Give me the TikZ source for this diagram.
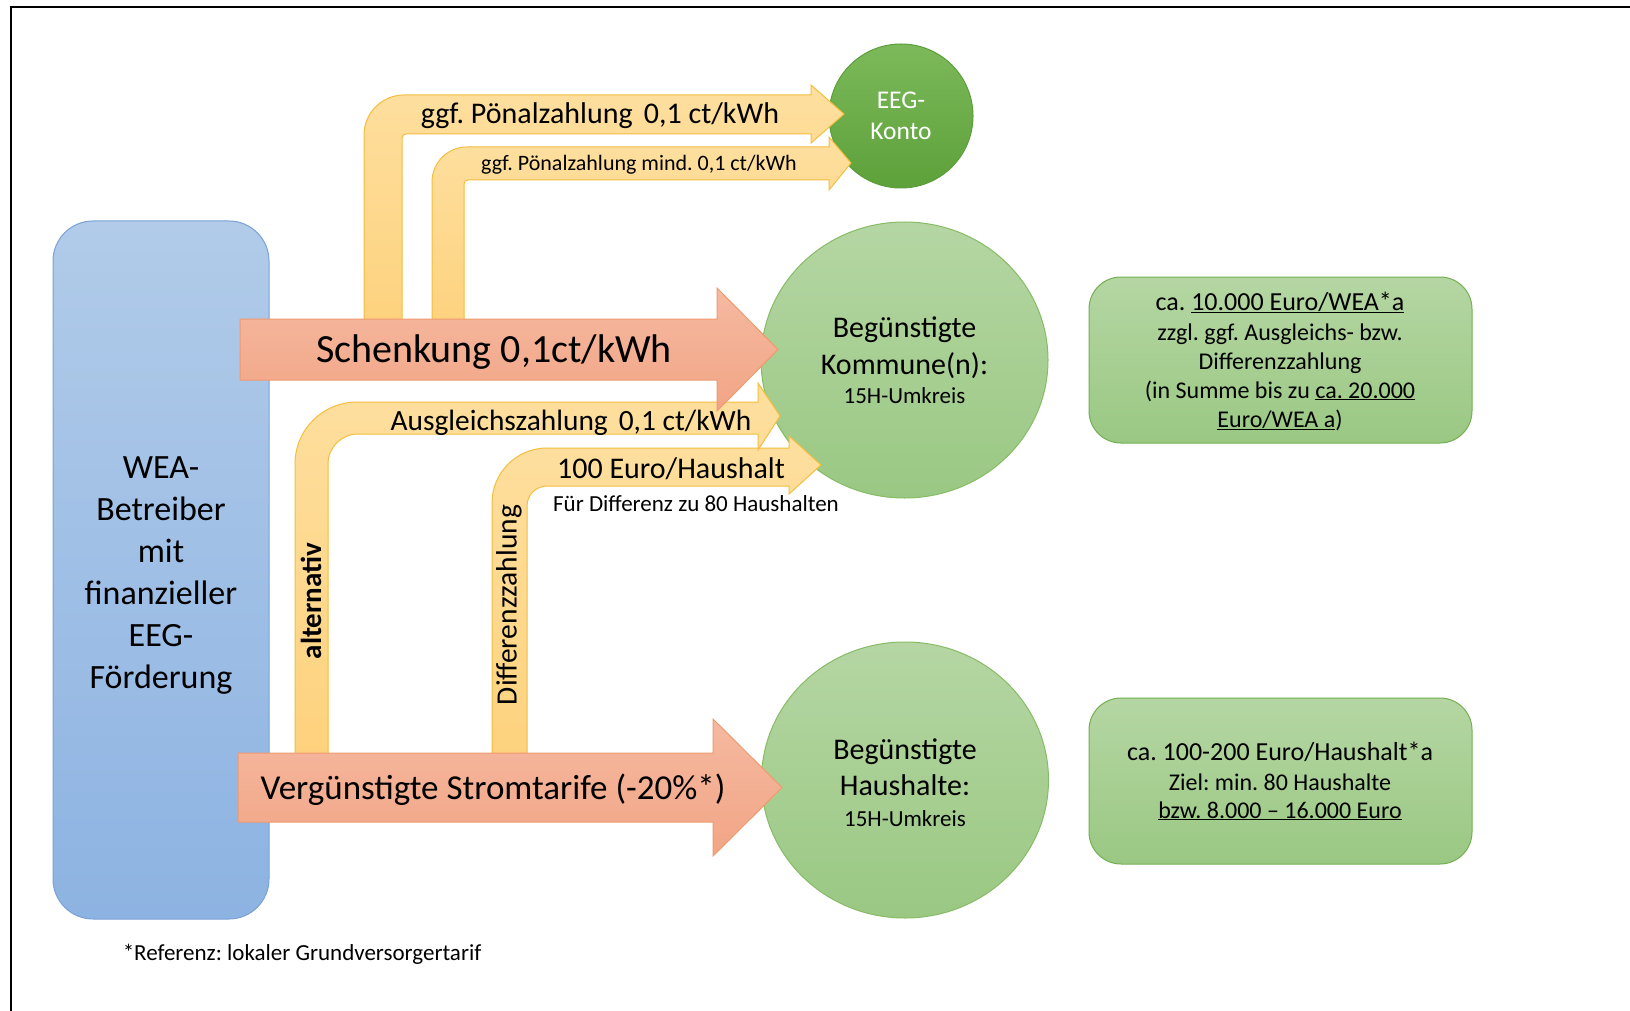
\documentclass[tikz,border=0pt]{standalone}
\usepackage{fontspec}
\setmainfont{Carlito}
\usetikzlibrary{shapes.geometric}
\frenchspacing
\newcommand\fsz[1]{\fontsize{#1}{#1}\selectfont}
\definecolor{ytop}{HTML}{FEDF9F}
\definecolor{ybot}{HTML}{FDD27D}
\definecolor{ybord}{HTML}{F4BE3E}
\definecolor{stop}{HTML}{F5B9A1}
\definecolor{sbot}{HTML}{F2A585}
\definecolor{sbord}{HTML}{EF9A6E}
\definecolor{btop}{HTML}{B1CBE9}
\definecolor{bbot}{HTML}{8DB3E2}
\definecolor{bbord}{HTML}{7AA2D4}
\definecolor{gtop}{HTML}{B5D6A3}
\definecolor{gbot}{HTML}{9AC883}
\definecolor{gbord}{HTML}{86BC66}
\definecolor{gboxbord}{HTML}{74AF52}
\definecolor{dtop}{HTML}{7CB95A}
\definecolor{dbot}{HTML}{5DA13A}
\definecolor{dbord}{HTML}{5D9E3A}
\begin{document}
\frenchspacing
\begin{tikzpicture}[x=1pt,y=-1pt,
  lbl/.style={anchor=base,inner sep=0pt,outer sep=0pt},
  yarrow/.style={draw=ybord,line width=1pt,top color=ytop,bottom color=ybot},
  sarrow/.style={draw=sbord,line width=1pt,top color=stop,bottom color=sbot},
  lgreen/.style={draw=gbord,line width=1pt,top color=gtop,bottom color=gbot,inner sep=0pt},
  gbox/.style={draw=gboxbord,line width=1pt,top color=gtop,bottom color=gbot,rounded corners=32pt,inner sep=0pt},
]
\useasboundingbox (0,0) rectangle (1630,1011);
\fill[white] (0,0) rectangle (1630,1011);
\draw[line width=2.5pt] (11,1015) -- (11,7) -- (1635,7);

% operator box
\node[draw=bbord,line width=1pt,top color=btop,bottom color=bbot,rounded corners=40pt,
      minimum width=216pt,minimum height=698pt,inner sep=0pt] (wea) at (161,570) {};
\node[align=center,font=\fontsize{34}{42}\selectfont,inner sep=0pt] (weatext) at (161,576)
  {WEA-\\Betreiber\\mit\\finanzieller\\EEG-\\Förderung};

% targets
\node[draw=dbord,line width=1pt,top color=dtop,bottom color=dbot,circle,minimum size=144pt,inner sep=0pt] (eeg) at (901,116) {};
\node[lgreen,ellipse,minimum width=287pt,minimum height=276pt] (komm) at (904.5,360) {};
\node[lgreen,ellipse,minimum width=287pt,minimum height=276pt] (haus) at (905,780) {};
\node[gbox,minimum width=383pt,minimum height=166pt] (box1) at (1280.5,360) {};
\node[gbox,minimum width=383pt,minimum height=166pt] (box2) at (1280.5,781) {};

% yellow bent arrows
\path[yarrow] (364,330) -- (364,135) .. controls (364,112.9) and (381.9,95) .. (404,95)
  -- (811,95) -- (811,85) -- (844,114) -- (811,143) -- (811,134) -- (406,134)
  .. controls (403.8,134) and (402,135.8) .. (402,138) -- (402,330) -- cycle;
\path[yarrow] (432,330) -- (432,182) .. controls (432,162.7) and (447.3,147) .. (467,147)
  -- (829,147) -- (829,137) -- (851,163) -- (829,190) -- (829,180) -- (468,180)
  .. controls (465.8,180) and (464,181.8) .. (464,184) -- (464,330) -- cycle;
\path[yarrow] (492,760) -- (492,503) .. controls (492,472.6) and (516.6,448) .. (547,448)
  -- (789,448) -- (789,436) -- (821,465) -- (789,494) -- (789,486) -- (547,486)
  .. controls (535.95,486) and (527,494.95) .. (527,506) -- (527,760) -- cycle;
\path[yarrow] (295,760) -- (295,464) .. controls (295,429.76) and (322.76,402) .. (357,402)
  -- (758,402) -- (758,383) -- (780,416) -- (758,450) -- (758,434) -- (358,434)
  .. controls (341.43,434) and (328,447.43) .. (328,464) -- (328,760) -- cycle;

% salmon arrows
\path[sarrow] (240,319) -- (717,319) -- (717,288) -- (778,349.5) -- (717,411) -- (717,380) -- (240,380) -- cycle;
\path[sarrow] (238,753) -- (713,753) -- (713,719) -- (782,787.5) -- (713,856) -- (713,822) -- (238,822) -- cycle;

% arrow labels
\node[lbl,font=\fsz{30}] (tpoen1) at (600,124) {ggf. Pönalzahlung\hspace{0.15em} 0,1 ct/kWh};
\node[lbl,font=\fsz{22}] (tpoen2) at (639,171) {ggf. Pönalzahlung mind. 0,1 ct/kWh};
\node[lbl,font=\fsz{40}] (tschenk) at (494,362) {Schenkung 0,1ct/kWh};
\node[lbl,font=\fsz{29.4}] (tausgl) at (571,430) {Ausgleichszahlung\hspace{0.15em} 0,1 ct/kWh};
\node[lbl,font=\fsz{30}] (thundert) at (671,478) {100 Euro/Haushalt};
\node[lbl,font=\fsz{23}] (tfuer) at (696,511) {Für Differenz zu 80 Haushalten};
\node[lbl,font=\fsz{35}] (tverg) at (493,799) {Vergünstigte Stromtarife (-20\%*)};
\node[font=\fsz{29}\bfseries,rotate=90,inner sep=0pt] (talt) at (311,601) {alternativ};
\node[font=\fsz{29.5},rotate=90,inner sep=0pt] (tdiff) at (509,605) {Differenzzahlung};

% circle texts
\node[lbl,font=\fsz{25.5},text=white] (teeg1) at (901,109) {EEG-};
\node[lbl,font=\fsz{25.5},text=white] (teeg2) at (901,140) {Konto};
\node[lbl,font=\fsz{30}] (tk1) at (904.5,337) {Begünstigte};
\node[lbl,font=\fsz{30}] (tk2) at (904.5,374) {Kommune(n):};
\node[lbl,font=\fsz{23}] (tk3) at (904.5,403) {15H-Umkreis};
\node[lbl,font=\fsz{30}] (th1) at (905,759) {Begünstigte};
\node[lbl,font=\fsz{30}] (th2) at (905,795) {Haushalte:};
\node[lbl,font=\fsz{23}] (th3) at (905,826) {15H-Umkreis};

% box texts
\node[lbl,font=\fsz{26}] (b1l1) at (1280,310) {ca. \underline{10.000 Euro/WEA*a}};
\node[lbl,font=\fsz{24}] (b1l2) at (1280,340) {zzgl. ggf. Ausgleichs- bzw.};
\node[lbl,font=\fsz{24}] (b1l3) at (1280,369) {Differenzzahlung};
\node[lbl,font=\fsz{24}] (b1l4) at (1280,398) {(in Summe bis zu \underline{ca. 20.000}};
\node[lbl,font=\fsz{24}] (b1l5) at (1280,427) {\underline{Euro/WEA a})};
\node[lbl,font=\fsz{26}] (b2l1) at (1280,760) {ca. 100-200 Euro/Haushalt*a};
\node[lbl,font=\fsz{24}] (b2l2) at (1280,790) {Ziel: min. 80 Haushalte};
\node[lbl,font=\fsz{24}] (b2l3) at (1280,818) {\underline{bzw. 8.000 – 16.000 Euro}};

% footnote
\node[lbl,font=\fsz{23}] (fn) at (302,960) {*Referenz: lokaler Grundversorgertarif};
\end{tikzpicture}
\end{document}
